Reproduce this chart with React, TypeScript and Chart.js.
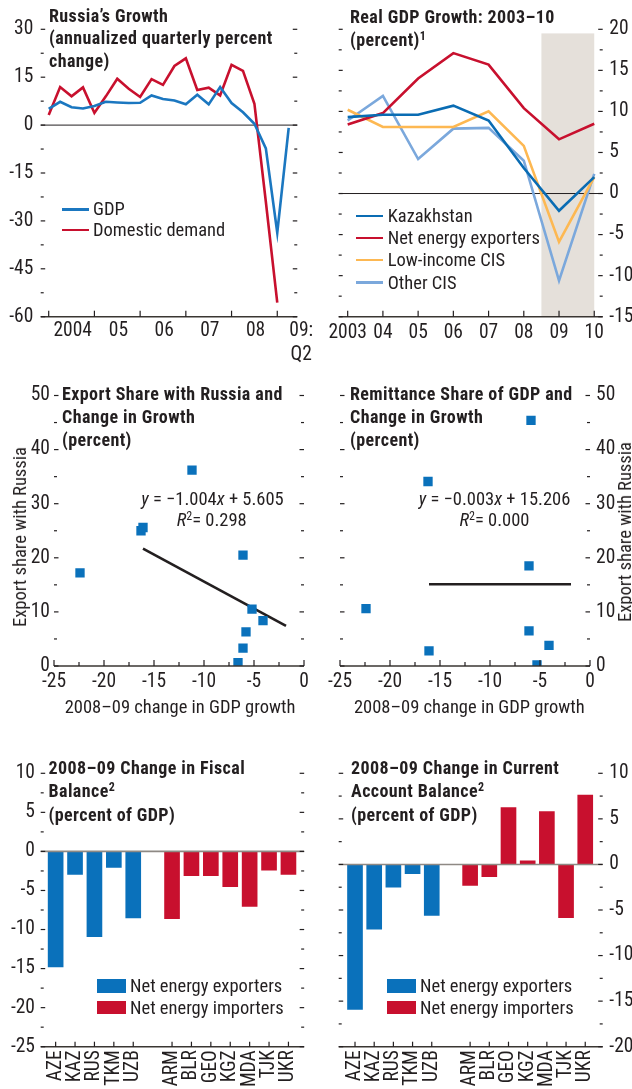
import React, { useEffect, useRef } from 'react';
import { Chart, registerables } from 'chart.js';
Chart.register(...registerables);

// ---------------- DATA ----------------
// Panel 1: Russia's growth (annualized quarterly percent change)
const russiaQuarters = [
  '2004Q1', '2004Q2', '2004Q3', '2004Q4', '2005Q1', '2005Q2', '2005Q3', '2005Q4',
  '2006Q1', '2006Q2', '2006Q3', '2006Q4', '2007Q1', '2007Q2', '2007Q3', '2007Q4',
  '2008Q1', '2008Q2', '2008Q3', '2008Q4', '2009Q1', '2009Q2',
];
const russiaGDP = [5.1, 7.3, 5.6, 5.2, 6.0, 7.3, 7.1, 6.9, 7.0, 9.3, 8.2, 7.7, 6.5, 9.5, 6.5, 11.9, 6.9, 4.0, 0.4, -7.3, -33.7, -0.9];
const russiaDomesticDemand = [3.2, 11.9, 9.0, 11.8, 3.8, 9.0, 14.5, 11.4, 8.8, 14.4, 12.6, 18.5, 20.9, 11.0, 11.7, 9.3, 18.9, 17.0, 6.7, -24.0, -55.6, null];
const russiaYearLabels: (string | string[])[] = ['2004', '05', '06', '07', '08', ['09:', 'Q2']];

// Panel 2: Real GDP growth 2003-10 (percent)
const realGdpYears = [2003, 2004, 2005, 2006, 2007, 2008, 2009, 2010];
const realGdpYearLabels = ['2003', '04', '05', '06', '07', '08', '09', '10'];
const kazakhstanGrowth = [9.3, 9.6, 9.6, 10.7, 8.9, 3.1, -2.1, 2.0];
const netEnergyExportersGrowth = [8.4, 9.8, 14.0, 17.1, 15.7, 10.4, 6.6, 8.5];
const lowIncomeCISGrowth = [10.2, 8.1, 8.1, 8.1, 10.0, 5.8, -5.9, 2.0];
const otherCISGrowth = [8.9, 11.9, 4.2, 7.9, 8.0, 4.0, -10.6, 2.4];
const shadeFromYear = 2008.5;
const shadeToYear = 2010;
const shadeTop = 19.5;

// Panel 3: Export share with Russia vs change in growth
const exportGrowthChange = [-22.4, -16.3, -16.1, -11.2, -6.1, -5.2, -4.1, -5.8, -6.1, -6.6];
const exportShareRussia = [17.2, 25.0, 25.6, 36.2, 20.5, 10.5, 8.4, 6.3, 3.3, 0.6];
const exportTrendX = [-16.1, -1.8];
const exportTrendY = [21.7, 7.4];

// Panel 4: Remittance share of GDP vs change in growth
const remitGrowthChange = [-5.9, -16.2, -6.1, -22.4, -6.1, -16.1, -4.1, -5.3];
const remittanceShare = [45.4, 34.1, 18.5, 10.6, 6.5, 2.8, 3.8, 0.2];
const remitTrendX = [-16.1, -1.9];
const remitTrendY = [15.1, 15.1];

// Panels 5 & 6: 2008-09 changes (percent of GDP)
const energyExporters = ['AZE', 'KAZ', 'RUS', 'TKM', 'UZB'];
const energyImporters = ['ARM', 'BLR', 'GEO', 'KGZ', 'MDA', 'TJK', 'UKR'];
const fiscalExporters = [-14.8, -2.95, -10.9, -2.05, -8.5];
const fiscalImporters = [-8.6, -3.1, -3.1, -4.5, -7.05, -2.4, -2.95];
const currentExporters = [-15.9, -7.1, -2.5, -1.0, -5.6];
const currentImporters = [-2.3, -1.35, 6.25, 0.4, 5.8, -5.85, 7.6];

// ---------------- STYLE ----------------
const INK = '#231f20';
const NARROW = '"Liberation Sans Narrow", "Arial Narrow", "Roboto Condensed", "DejaVu Sans Condensed", sans-serif';
const BLUE = '#0a71bb';
const RED = '#c8102e';
const GDP_BLUE = '#1b77c0';
const KAZ_BLUE = '#0a6cb3';
const ORANGE = '#fdb852';
const LIGHT_BLUE = '#7ba8dc';
const SHADE = '#e5e0da';
const TICK_FONT = { family: NARROW, size: 19.5 };

const barCategories = [...energyExporters, '', ...energyImporters];

function range(a: number, b: number, s: number) {
  const r: number[] = [];
  for (let v = a; v <= b + 1e-9; v += s) r.push(+v.toFixed(4));
  return r;
}
const major = (step: number, big: number, small: number) => (v: number) =>
  Math.abs(v / step - Math.round(v / step)) < 1e-6 ? big : small;

type TickSpec = { scale: string; side: 'left' | 'right' | 'bottom'; values: number[]; len: (v: number) => number };
type Decor = {
  ticks: TickSpec[];
  zero?: { color: string; width: number; over?: boolean };
  shade?: { x0: number; x1: number; y0: number; y1: number; color: string };
};

function decor(d: Decor) {
  return {
    id: 'decor',
    beforeDatasetsDraw(chart: any) {
      const { ctx, chartArea: a, scales } = chart;
      ctx.save();
      if (d.shade) {
        const xs = scales.x, ys = scales.y;
        const x0 = xs.getPixelForValue(d.shade.x0), x1 = xs.getPixelForValue(d.shade.x1);
        const y0 = ys.getPixelForValue(d.shade.y0), y1 = ys.getPixelForValue(d.shade.y1);
        ctx.fillStyle = d.shade.color;
        ctx.fillRect(Math.min(x0, x1), Math.min(y0, y1), Math.abs(x1 - x0), Math.abs(y1 - y0));
      }
      if (d.zero && !d.zero.over) {
        const y = scales.y.getPixelForValue(0);
        ctx.strokeStyle = d.zero.color; ctx.lineWidth = d.zero.width;
        ctx.beginPath(); ctx.moveTo(a.left, y); ctx.lineTo(a.right, y); ctx.stroke();
      }
      ctx.restore();
    },
    afterDatasetsDraw(chart: any) {
      const { ctx, chartArea: a, scales } = chart;
      ctx.save();
      if (d.zero && d.zero.over) {
        const y = scales.y.getPixelForValue(0);
        ctx.strokeStyle = d.zero.color; ctx.lineWidth = d.zero.width;
        ctx.beginPath(); ctx.moveTo(a.left, y); ctx.lineTo(a.right, y); ctx.stroke();
      }
      ctx.strokeStyle = '#3a3632'; ctx.lineWidth = 1.5;
      ctx.beginPath(); ctx.moveTo(a.left, a.bottom); ctx.lineTo(a.right, a.bottom); ctx.stroke();
      ctx.strokeStyle = INK; ctx.lineWidth = 1.2;
      for (const t of d.ticks) {
        const sc = scales[t.scale];
        for (const v of t.values) {
          const p = sc.getPixelForValue(v);
          const L = t.len(v);
          ctx.beginPath();
          if (t.side === 'left') { ctx.moveTo(a.left, p); ctx.lineTo(a.left + L, p); }
          else if (t.side === 'right') { ctx.moveTo(a.right, p); ctx.lineTo(a.right - L, p); }
          else { ctx.moveTo(p, a.bottom); ctx.lineTo(p, a.bottom - L); }
          ctx.stroke();
        }
      }
      ctx.restore();
    },
  };
}

const noGrid = { display: false, drawTicks: false, tickLength: 0 };
const noBorder = { display: false };
const fixWidth = (w: number) => (s: any) => { s.width = w; };
const fixHeight = (h: number) => (s: any) => { s.height = h; };
const baseOptions = {
  animation: false as const,
  responsive: false,
  events: [] as any[],
  plugins: { legend: { display: false }, tooltip: { enabled: false }, title: { display: false } },
};

// ---------------- CHART CONFIGS ----------------
function makeRussia(): any {
  const q1Index = russiaQuarters.map((q, i) => (q.endsWith('Q1') ? i : -1)).filter((i) => i >= 0);
  const labelPos = russiaYearLabels.map((_, k) => (k < q1Index.length ? q1Index[k] + 2.1 : russiaQuarters.length - 0.7));
  return {
    type: 'line',
    data: {
      datasets: [
        { label: 'GDP', data: russiaGDP.map((v, i) => ({ x: i, y: v })), borderColor: GDP_BLUE, borderWidth: 2.6, pointRadius: 0, tension: 0 },
        { label: 'Domestic demand', data: russiaDomesticDemand.map((v, i) => ({ x: i, y: v })), borderColor: RED, borderWidth: 2.6, pointRadius: 0, tension: 0 },
      ],
    },
    options: {
      ...baseOptions,
      layout: { padding: { left: 0, right: 11, top: 29.3, bottom: 0 } },
      scales: {
        x: {
          type: 'linear', min: -0.7, max: 21.75, offset: false, grid: noGrid, border: noBorder, afterFit: fixHeight(53.3),
          afterBuildTicks: (s: any) => { s.ticks = labelPos.map((v) => ({ value: v })); },
          ticks: { autoSkip: false, minRotation: 0, maxRotation: 0, padding: 3, color: INK, font: TICK_FONT, callback: (_v: any, i: number) => russiaYearLabels[i] },
        },
        y: {
          min: -60, max: 30, grid: noGrid, border: noBorder, afterFit: fixWidth(40.7),
          ticks: { stepSize: 15, padding: 7.4, color: INK, font: TICK_FONT },
        },
      },
    },
    plugins: [decor({
      zero: { color: INK, width: 1 },
      ticks: [
        { scale: 'y', side: 'left', values: range(-60, 30, 7.5), len: major(15, 4.5, 3) },
        { scale: 'y', side: 'right', values: range(-60, 30, 7.5), len: major(15, 4.5, 3) },
        { scale: 'x', side: 'bottom', values: q1Index, len: () => 6 },
      ],
    })],
  };
}

function makeRealGdp(): any {
  const series = [
    { label: 'Kazakhstan', data: kazakhstanGrowth, color: KAZ_BLUE },
    { label: 'Net energy exporters', data: netEnergyExportersGrowth, color: RED },
    { label: 'Low-income CIS', data: lowIncomeCISGrowth, color: ORANGE },
    { label: 'Other CIS', data: otherCISGrowth, color: LIGHT_BLUE },
  ];
  return {
    type: 'line',
    data: {
      datasets: series.map((s) => ({
        label: s.label, data: s.data.map((v, i) => ({ x: realGdpYears[i], y: v })),
        borderColor: s.color, borderWidth: 2.6, pointRadius: 0, tension: 0,
      })),
    },
    options: {
      ...baseOptions,
      layout: { padding: { left: 22.7, right: 0, top: 29.3, bottom: 0 } },
      scales: {
        x: {
          type: 'linear', min: 2002.745, max: 2010.24, offset: false, grid: noGrid, border: noBorder, afterFit: fixHeight(53.3),
          afterBuildTicks: (s: any) => { s.ticks = realGdpYears.map((v) => ({ value: v })); },
          ticks: { autoSkip: false, minRotation: 0, maxRotation: 0, padding: 4.5, color: INK, font: TICK_FONT, callback: (_v: any, i: number) => realGdpYearLabels[i] },
        },
        y: {
          position: 'right', min: -15, max: 20, grid: noGrid, border: noBorder, afterFit: fixWidth(29.3),
          ticks: { stepSize: 5, padding: 6.6, color: INK, font: TICK_FONT },
        },
      },
    },
    plugins: [decor({
      zero: { color: INK, width: 1 },
      shade: { x0: shadeFromYear, x1: shadeToYear, y0: -15, y1: shadeTop, color: SHADE },
      ticks: [
        { scale: 'y', side: 'left', values: range(-15, 20, 2.5), len: major(5, 4, 3) },
        { scale: 'y', side: 'right', values: range(-15, 20, 2.5), len: major(5, 4.5, 3) },
        { scale: 'x', side: 'bottom', values: realGdpYears, len: () => 6 },
      ],
    })],
  };
}

function makeScatter(xs: number[], ys: number[], tx: number[], ty: number[], right: boolean): any {
  return {
    type: 'scatter',
    data: {
      datasets: [
        {
          label: 'Countries', data: xs.map((x, i) => ({ x, y: ys[i] })),
          pointStyle: 'rect', pointRadius: 6.6, backgroundColor: BLUE, borderWidth: 0,
          clip: { left: 10, right: 10, top: 10, bottom: 0 },
        },
        {
          label: 'Trend', type: 'line', data: tx.map((x, i) => ({ x, y: ty[i] })),
          borderColor: INK, borderWidth: 2.6, pointRadius: 0, showLine: true,
        },
      ],
    },
    options: {
      ...baseOptions,
      layout: { padding: right ? { left: 24, right: 0, top: 35.5, bottom: 0 } : { left: 0, right: 12, top: 35.5, bottom: 0 } },
      scales: {
        x: {
          type: 'linear', min: -25, max: 0, offset: false, grid: noGrid, border: noBorder, afterFit: fixHeight(64),
          ticks: { stepSize: 5, autoSkip: false, minRotation: 0, maxRotation: 0, padding: 4, color: INK, font: TICK_FONT },
        },
        y: {
          type: 'linear', position: right ? 'right' : 'left', min: 0, max: 50, grid: noGrid, border: noBorder,
          afterFit: fixWidth(right ? 42 : 54),
          ticks: { stepSize: 10, padding: right ? 6 : 4, color: INK, font: TICK_FONT },
        },
      },
    },
    plugins: [decor({
      ticks: [
        { scale: 'y', side: 'left', values: range(0, 50, 5), len: major(10, 4.5, 3) },
        { scale: 'y', side: 'right', values: range(0, 50, 5), len: major(10, 4.5, 3) },
        { scale: 'x', side: 'bottom', values: range(-25, 0, 2.5), len: major(5, 6, 4) },
      ],
    })],
  };
}

function makeBars(exp: number[], imp: number[], ymin: number, right: boolean, xmin: number, xmax: number, side: number, other: number): any {
  const positions = barCategories.map((c, i) => (c ? i : -1)).filter((i) => i >= 0);
  return {
    type: 'bar',
    data: {
      datasets: [
        {
          label: 'Net energy exporters', data: energyExporters.map((c, i) => ({ x: barCategories.indexOf(c), y: exp[i] })),
          backgroundColor: BLUE, barThickness: 15, grouped: false, borderWidth: 0,
        },
        {
          label: 'Net energy importers', data: energyImporters.map((c, i) => ({ x: barCategories.indexOf(c), y: imp[i] })),
          backgroundColor: RED, barThickness: 15, grouped: false, borderWidth: 0,
        },
      ],
    },
    options: {
      ...baseOptions,
      layout: { padding: right ? { left: other, right: 0, top: 33.3, bottom: 0 } : { left: 0, right: other, top: 33.3, bottom: 0 } },
      scales: {
        x: {
          type: 'linear', min: xmin, max: xmax, offset: false, grid: noGrid, border: noBorder, afterFit: fixHeight(42.3),
          afterBuildTicks: (s: any) => { s.ticks = positions.map((v) => ({ value: v })); },
          ticks: { autoSkip: false, minRotation: 90, maxRotation: 90, padding: 3.5, color: INK, font: TICK_FONT, callback: (_v: any, i: number) => barCategories[positions[i]] },
        },
        y: {
          position: right ? 'right' : 'left', min: ymin, max: 10, grid: noGrid, border: noBorder, afterFit: fixWidth(side),
          ticks: { stepSize: 5, padding: right ? 6.6 : 5.7, color: INK, font: TICK_FONT },
        },
      },
    },
    plugins: [decor({
      zero: { color: '#8e8984', width: 1.6, over: true },
      ticks: [
        { scale: 'y', side: 'left', values: range(ymin, 10, 2.5), len: major(5, 4.5, 3) },
        { scale: 'y', side: 'right', values: range(ymin, 10, 2.5), len: major(5, 4.5, 3) },
        { scale: 'x', side: 'bottom', values: positions, len: () => 5 },
      ],
    })],
  };
}

// ---------------- COMPONENTS ----------------
function ChartCanvas({ left, top, width, height, make }: { left: number; top: number; width: number; height: number; make: () => any }) {
  const ref = useRef<HTMLCanvasElement>(null);
  useEffect(() => {
    const canvas = ref.current!;
    const chart = new Chart(canvas, make());
    return () => chart.destroy();
  }, []);
  return <canvas ref={ref} width={width} height={height} style={{ position: 'absolute', left, top, width, height }} />;
}

const textBase: React.CSSProperties = {
  position: 'absolute', font: `18.5px ${NARROW}`, lineHeight: '22px', color: INK, whiteSpace: 'nowrap',
};

function Txt({ x, y, center, children }: { x: number; y: number; center?: boolean; children: React.ReactNode }) {
  return (
    <div style={{ ...textBase, left: x, top: y - 11, transform: center ? 'translateX(-50%)' : undefined }}>{children}</div>
  );
}

function VText({ x, y, children }: { x: number; y: number; children: React.ReactNode }) {
  return (
    <div style={{ ...textBase, left: x, top: y, transform: 'translate(-50%,-50%) rotate(-90deg)' }}>{children}</div>
  );
}

function Title({ x, y, lh, children }: { x: number; y: number; lh: number; children: React.ReactNode }) {
  return (
    <div style={{ position: 'absolute', left: x, top: y, font: `bold 18px ${NARROW}`, letterSpacing: '0.4px', lineHeight: `${lh}px`, color: INK, whiteSpace: 'nowrap' }}>
      {children}
    </div>
  );
}

const Sup = ({ children }: { children: React.ReactNode }) => (
  <sup style={{ fontSize: 12, lineHeight: 0, verticalAlign: '0.5em' }}>{children}</sup>
);

function LineKey({ x1, x2, y, color, label, tx }: { x1: number; x2: number; y: number; color: string; label: string; tx: number }) {
  return (
    <>
      <div style={{ position: 'absolute', left: x1, top: y - 1.3, width: x2 - x1, height: 2.6, background: color }} />
      <Txt x={tx} y={y}>{label}</Txt>
    </>
  );
}

function BoxKey({ x, y, color, label }: { x: number; y: number; color: string; label: string }) {
  return (
    <>
      <div style={{ position: 'absolute', left: x, top: y - 6.7, width: 29, height: 13.4, background: color }} />
      <Txt x={x + 33} y={y}>{label}</Txt>
    </>
  );
}

export default function App() {
  return (
    <div style={{ position: 'relative', width: 632, height: 1089, overflow: 'hidden', background: '#fff' }}>
      <style>{'html,body{margin:0;padding:0;overflow:hidden;background:#fff}'}</style>

      <ChartCanvas left={0} top={0} width={316} height={370} make={makeRussia} />
      <ChartCanvas left={316} top={0} width={316} height={370} make={makeRealGdp} />
      <ChartCanvas left={0} top={360} width={316} height={370}
        make={() => makeScatter(exportGrowthChange, exportShareRussia, exportTrendX, exportTrendY, false)} />
      <ChartCanvas left={316} top={360} width={316} height={370}
        make={() => makeScatter(remitGrowthChange, remittanceShare, remitTrendX, remitTrendY, true)} />
      <ChartCanvas left={0} top={740} width={316} height={349}
        make={() => makeBars(fiscalExporters, fiscalImporters, -25, false, -0.77, 12.81, 40.7, 11)} />
      <ChartCanvas left={316} top={740} width={316} height={349}
        make={() => makeBars(currentExporters, currentImporters, -20, true, -0.85, 12.91, 29.3, 22.7)} />

      {/* Titles */}
      <Title x={49} y={4.5} lh={22.5}>Russia’s Growth<br />(annualized quarterly percent<br />change)</Title>
      <Title x={350} y={4.5} lh={23}>Real GDP Growth: 2003–10<br />(percent)<Sup>1</Sup></Title>
      <Title x={62} y={382} lh={23}>Export Share with Russia and<br />Change in Growth<br />(percent)</Title>
      <Title x={350} y={382} lh={23}>Remittance Share of GDP and<br />Change in Growth<br />(percent)</Title>
      <Title x={48.5} y={756} lh={23.3}>2008–09 Change in Fiscal<br />Balance<Sup>2</Sup><br />(percent of GDP)</Title>
      <Title x={351} y={756} lh={23.3}>2008–09 Change in Current<br />Account Balance<Sup>2</Sup><br />(percent of GDP)</Title>

      {/* Legends */}
      <LineKey x1={62} x2={89} y={209.3} color={GDP_BLUE} label="GDP" tx={93} />
      <LineKey x1={62} x2={89} y={230} color={RED} label="Domestic demand" tx={93} />
      <LineKey x1={356} x2={383} y={216} color={KAZ_BLUE} label="Kazakhstan" tx={387.7} />
      <LineKey x1={356} x2={383} y={238} color={RED} label="Net energy exporters" tx={387.7} />
      <LineKey x1={356} x2={383} y={260} color={ORANGE} label="Low-income CIS" tx={387.7} />
      <LineKey x1={356} x2={383} y={282.7} color={LIGHT_BLUE} label="Other CIS" tx={387.7} />
      <BoxKey x={97} y={986} color={BLUE} label="Net energy exporters" />
      <BoxKey x={97} y={1007.5} color={RED} label="Net energy importers" />
      <BoxKey x={387} y={986} color={BLUE} label="Net energy exporters" />
      <BoxKey x={387} y={1007.5} color={RED} label="Net energy importers" />

      {/* Scatter annotations */}
      <Txt x={212.5} y={499} center><i>y</i> = −1.004<i>x</i> + 5.605</Txt>
      <Txt x={211.7} y={520} center><i>R</i><Sup>2</Sup>= 0.298</Txt>
      <Txt x={494.5} y={499} center><i>y</i> = −0.003<i>x</i> + 15.206</Txt>
      <Txt x={494.5} y={520} center><i>R</i><Sup>2</Sup>= 0.000</Txt>
      <VText x={20} y={536.7}>Export share with Russia</VText>
      <VText x={625} y={532}>Export share with Russia</VText>
      <Txt x={180} y={706.7} center>2008–09 change in GDP growth</Txt>
      <Txt x={469.3} y={706.7} center>2008–09 change in GDP growth</Txt>
    </div>
  );
}
